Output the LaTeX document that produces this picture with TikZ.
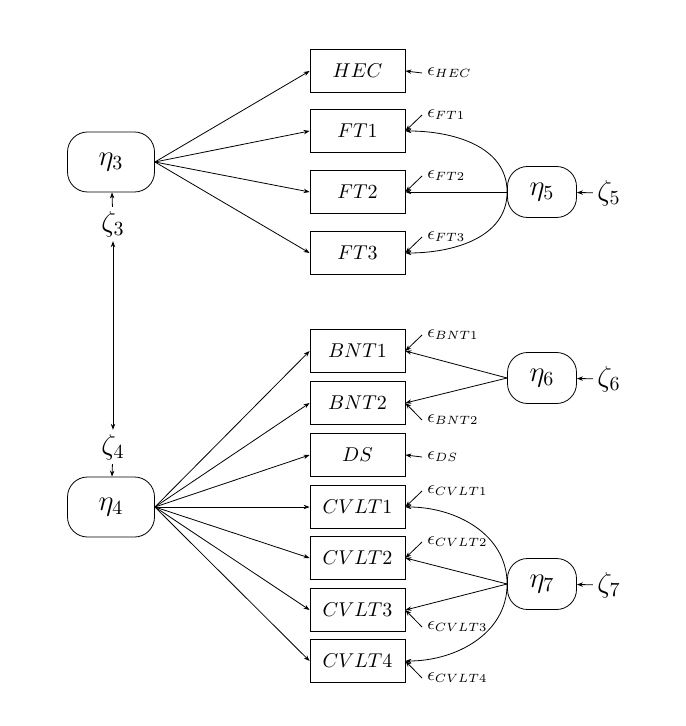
\documentclass[tikz,border=0pt]{standalone}
\usetikzlibrary{arrows.meta}
\begin{document}
\begin{tikzpicture}[x=0.5pt,y=-0.5pt,
  >={Stealth[length=3pt,width=2.2pt]},
  obs/.style={draw,minimum width=47.5pt,minimum height=21.5pt},
  lat/.style={draw,rounded corners=10pt,font=\Large},
  err/.style={anchor=west,inner xsep=2.5pt,inner ysep=1pt,font=\small},
  dist/.style={inner sep=2pt,font=\Large}]
  \useasboundingbox (0,0) rectangle (685,726);
  % latent variables
  \node[lat,minimum width=43.5pt,minimum height=30pt] (eta3) at (111,162) {$\eta_3$};
  \node[lat,minimum width=43.5pt,minimum height=30pt] (eta4) at (111,507) {$\eta_4$};
  \node[lat,minimum width=34.5pt,minimum height=25.5pt] (eta5) at (542,192) {$\eta_5$};
  \node[lat,minimum width=34.5pt,minimum height=25.5pt] (eta6) at (542,378) {$\eta_6$};
  \node[lat,minimum width=34.5pt,minimum height=25.5pt] (eta7) at (542,584) {$\eta_7$};
  \node[dist] (zeta3) at (113,224) {$\zeta_3$};
  \node[dist] (zeta4) at (113,447) {$\zeta_4$};
  \node[dist] (zeta5) at (609,193) {$\zeta_5$};
  \node[dist] (zeta6) at (609,379) {$\zeta_6$};
  \node[dist] (zeta7) at (609,585) {$\zeta_7$};
  % observed variables
  \node[obs] (HEC) at (357.5,71) {$HEC$};
  \node[obs] (FT1) at (357.5,131) {$FT1$};
  \node[obs] (FT2) at (357.5,192) {$FT2$};
  \node[obs] (FT3) at (357.5,253) {$FT3$};
  \node[obs] (BNT1) at (357.5,351) {$BNT1$};
  \node[obs] (BNT2) at (357.5,403) {$BNT2$};
  \node[obs] (DS) at (357.5,455) {$DS$};
  \node[obs] (CVLT1) at (357.5,507) {$CVLT1$};
  \node[obs] (CVLT2) at (357.5,558) {$CVLT2$};
  \node[obs] (CVLT3) at (357.5,610) {$CVLT3$};
  \node[obs] (CVLT4) at (357.5,661) {$CVLT4$};
  % errors
  \node[err] (eHEC) at (422,73) {$\epsilon_{HEC}$};
  \node[err] (eFT1) at (422,115) {$\epsilon_{FT1}$};
  \node[err] (eFT2) at (422,176) {$\epsilon_{FT2}$};
  \node[err] (eFT3) at (422,237) {$\epsilon_{FT3}$};
  \node[err] (eBNT1) at (422,335) {$\epsilon_{BNT1}$};
  \node[err] (eBNT2) at (422,420) {$\epsilon_{BNT2}$};
  \node[err] (eDS) at (422,457) {$\epsilon_{DS}$};
  \node[err] (eCVLT1) at (422,491) {$\epsilon_{CVLT1}$};
  \node[err] (eCVLT2) at (422,542) {$\epsilon_{CVLT2}$};
  \node[err] (eCVLT3) at (422,627) {$\epsilon_{CVLT3}$};
  \node[err] (eCVLT4) at (422,678) {$\epsilon_{CVLT4}$};
  % loadings
  \draw[->] (eta3.east) -- (HEC.west);
  \draw[->] (eta3.east) -- (FT1.west);
  \draw[->] (eta3.east) -- (FT2.west);
  \draw[->] (eta3.east) -- (FT3.west);
  \draw[->] (eta4.east) -- (BNT1.west);
  \draw[->] (eta4.east) -- (BNT2.west);
  \draw[->] (eta4.east) -- (DS.west);
  \draw[->] (eta4.east) -- (CVLT1.west);
  \draw[->] (eta4.east) -- (CVLT2.west);
  \draw[->] (eta4.east) -- (CVLT3.west);
  \draw[->] (eta4.east) -- (CVLT4.west);
  \draw[->] (eta5.west) to[out=90,in=0] (FT1.east);
  \draw[->] (eta5.west) -- (FT2.east);
  \draw[->] (eta5.west) to[out=-90,in=0] (FT3.east);
  \draw[->] (eta6.west) -- (BNT1.east);
  \draw[->] (eta6.west) -- (BNT2.east);
  \draw[->] (eta7.west) to[out=90,in=0] (CVLT1.east);
  \draw[->] (eta7.west) -- (CVLT2.east);
  \draw[->] (eta7.west) -- (CVLT3.east);
  \draw[->] (eta7.west) to[out=-90,in=0] (CVLT4.east);
  % disturbances
  \draw[->] (zeta3) -- (eta3);
  \draw[<->] (zeta3) -- (zeta4);
  \draw[->] (zeta4) -- (eta4);
  \draw[->] (zeta5) -- (eta5);
  \draw[->] (zeta6) -- (eta6);
  \draw[->] (zeta7) -- (eta7);
  % measurement errors
  \draw[->] (eHEC.west) -- (HEC.east);
  \draw[->] (eFT1.west) -- (FT1.east);
  \draw[->] (eFT2.west) -- (FT2.east);
  \draw[->] (eFT3.west) -- (FT3.east);
  \draw[->] (eBNT1.west) -- (BNT1.east);
  \draw[->] (eBNT2.west) -- (BNT2.east);
  \draw[->] (eDS.west) -- (DS.east);
  \draw[->] (eCVLT1.west) -- (CVLT1.east);
  \draw[->] (eCVLT2.west) -- (CVLT2.east);
  \draw[->] (eCVLT3.west) -- (CVLT3.east);
  \draw[->] (eCVLT4.west) -- (CVLT4.east);
\end{tikzpicture}
\end{document}
